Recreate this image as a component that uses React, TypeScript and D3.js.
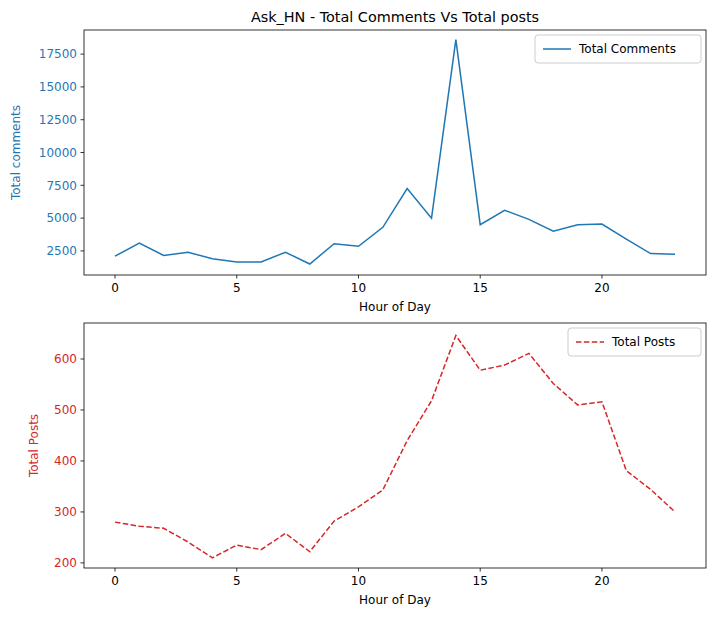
import React from 'react';
import * as d3 from 'd3';

const hours = d3.range(0, 24);
const totalComments = [2100, 3100, 2150, 2400, 1900, 1650, 1650, 2400, 1500, 3050, 2850, 4300, 7250, 5000, 18600, 4500, 5600, 4900, 4000, 4500, 4550, 3400, 2300, 2250];
const totalPosts = [280, 272, 268, 241, 210, 235, 226, 258, 222, 282, 310, 343, 440, 518, 646, 578, 588, 611, 552, 510, 516, 381, 344, 300];
const commentTicks = [2500, 5000, 7500, 10000, 12500, 15000, 17500];
const postTicks = [200, 300, 400, 500, 600];
const hourTicks = [0, 5, 10, 15, 20];

const BLUE = '#1f77b4';
const RED = '#d62728';
const FONT = 'DejaVu Sans, sans-serif';

interface PanelProps {
  top: number;
  bottom: number;
  values: number[];
  yDomain: [number, number];
  ticks: number[];
  color: string;
  dash?: string;
  yLabel: string;
  labelX: number;
  legend: string;
  legendW: number;
}

const left = 84;
const right = 706;

const Panel: React.FC<PanelProps> = ({ top, bottom, values, yDomain, ticks, color, dash, yLabel, labelX, legend, legendW }) => {
  const x = d3.scaleLinear().domain([-1.15, 24.15]).range([left + 3, right - 3]);
  const y = d3.scaleLinear().domain(yDomain).range([bottom, top]);
  const line = d3.line<number>().x((_, i) => x(hours[i])).y(d => y(d));
  const lx = right - 5 - legendW;
  return (
    <g fontFamily={FONT}>
      <path d={line(values) || ''} fill="none" stroke={color} strokeWidth={1.5} strokeDasharray={dash} />
      <rect x={left} y={top} width={right - left} height={bottom - top} fill="none" stroke="#000" strokeWidth={0.8} />
      {ticks.map(t => (
        <g key={t}>
          <line x1={left - 3.5} x2={left} y1={y(t)} y2={y(t)} stroke="#000" strokeWidth={0.8} />
          <text x={left - 7} y={y(t)} dy="0.35em" textAnchor="end" fontSize={12} fill={color}>{t}</text>
        </g>
      ))}
      {hourTicks.map(t => (
        <g key={t}>
          <line x1={x(t)} x2={x(t)} y1={bottom} y2={bottom + 3.5} stroke="#000" strokeWidth={0.8} />
          <text x={x(t)} y={bottom + 17} textAnchor="middle" fontSize={12} fill="#000">{t}</text>
        </g>
      ))}
      <text x={(left + right) / 2} y={bottom + 36} textAnchor="middle" fontSize={12}>Hour of Day</text>
      <text transform={`translate(${labelX},${(top + bottom) / 2}) rotate(-90)`} textAnchor="middle" fontSize={12} fill={color}>{yLabel}</text>
      <rect x={lx} y={top + 5} width={legendW} height={28} rx={3} fill="#fff" stroke="#ccc" />
      <line x1={lx + 8} x2={lx + 36} y1={top + 19} y2={top + 19} stroke={color} strokeWidth={1.5} strokeDasharray={dash} />
      <text x={lx + 44} y={top + 19} dy="0.35em" fontSize={12}>{legend}</text>
    </g>
  );
};

export default function App() {
  return (
    <svg width={713} height={622} style={{ display: 'block', position: 'absolute', left: 0, top: 0 }}>
      <rect width={713} height={622} fill="#fff" />
      <text x={(left + right) / 2} y={22} textAnchor="middle" fontSize={14.4} fontFamily={FONT}>Ask_HN - Total Comments Vs Total posts</text>
      <Panel top={30} bottom={275} values={totalComments} yDomain={[664, 19337]} ticks={commentTicks} color={BLUE} yLabel="Total comments" labelX={20} legend="Total Comments" legendW={166} />
      <Panel top={323} bottom={568} values={totalPosts} yDomain={[190, 670.6]} ticks={postTicks} color={RED} dash="5.5,2.4" yLabel="Total Posts" labelX={38} legend="Total Posts" legendW={133} />
    </svg>
  );
}
